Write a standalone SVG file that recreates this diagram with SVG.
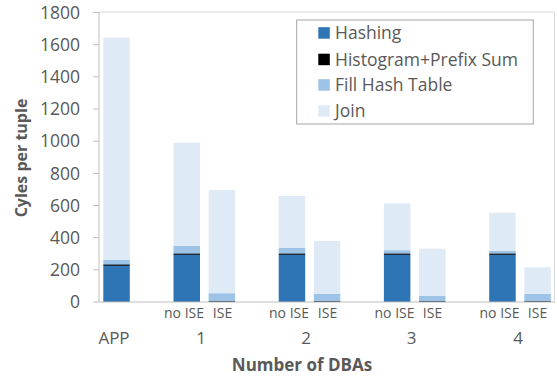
<svg xmlns="http://www.w3.org/2000/svg" width="557" height="376" viewBox="0 0 557 376">
<style>
text{font-family:"Open Sans","Liberation Sans",sans-serif;fill:#595959}
.tick{font-size:17.5px;text-anchor:end}
.cat{font-size:14px;text-anchor:middle}
.grp{font-size:17px;text-anchor:middle}
.title{font-size:17px;font-weight:bold;text-anchor:middle}
.leg{font-size:17.5px}
.hash{fill:#2E75B6}
.hist{fill:#1f2a36}
.fill{fill:#9DC3E6}
.join{fill:#DEEBF7}
.axis{stroke:#bfbfbf;stroke-width:1;fill:none}
.frame{stroke:#d9d9d9;stroke-width:1;fill:none}
</style>
<rect width="557" height="376" fill="#ffffff"/>
<g id="plot-frame">
<path class="frame" d="M99 12H554.5V302"/>
</g>
<g id="bars">
<g id="bar-app">
<rect class="join" x="103.3" y="37.7" width="26.5" height="222.3"/>
<rect class="fill" x="103.3" y="260" width="26.5" height="5"/>
<rect class="hist" x="103.3" y="264.5" width="26.5" height="1.5"/>
<rect class="hash" x="103.3" y="266" width="26.5" height="36"/>
</g>
<g id="bar-1-noise">
<rect class="join" x="173.5" y="142.7" width="26.5" height="103.3"/>
<rect class="fill" x="173.5" y="246" width="26.5" height="7.5"/>
<rect class="hist" x="173.5" y="253.5" width="26.5" height="1.5"/>
<rect class="hash" x="173.5" y="255" width="26.5" height="47"/>
</g>
<g id="bar-1-ise">
<rect class="join" x="208.6" y="190" width="26.5" height="103.3"/>
<rect class="fill" x="208.6" y="293.3" width="26.5" height="7.7"/>
<rect class="hist" x="208.6" y="301" width="26.5" height="1"/>
</g>
<g id="bar-2-noise">
<rect class="join" x="278.7" y="196" width="26.5" height="52"/>
<rect class="fill" x="278.7" y="248" width="26.5" height="5.5"/>
<rect class="hist" x="278.7" y="253.5" width="26.5" height="1.5"/>
<rect class="hash" x="278.7" y="255" width="26.5" height="47"/>
</g>
<g id="bar-2-ise">
<rect class="join" x="313.8" y="241" width="26.5" height="53"/>
<rect class="fill" x="313.8" y="294" width="26.5" height="7"/>
<rect class="hist" x="313.8" y="301" width="26.5" height="1"/>
</g>
<g id="bar-3-noise">
<rect class="join" x="383.9" y="203.3" width="26.5" height="47"/>
<rect class="fill" x="383.9" y="250.3" width="26.5" height="3.2"/>
<rect class="hist" x="383.9" y="253.5" width="26.5" height="1.5"/>
<rect class="hash" x="383.9" y="255" width="26.5" height="47"/>
</g>
<g id="bar-3-ise">
<rect class="join" x="419" y="248.7" width="26.5" height="47.3"/>
<rect class="fill" x="419" y="296" width="26.5" height="5"/>
<rect class="hist" x="419" y="301" width="26.5" height="1"/>
</g>
<g id="bar-4-noise">
<rect class="join" x="489.2" y="212.7" width="26.5" height="38.3"/>
<rect class="fill" x="489.2" y="251" width="26.5" height="2.5"/>
<rect class="hist" x="489.2" y="253.5" width="26.5" height="1.5"/>
<rect class="hash" x="489.2" y="255" width="26.5" height="47"/>
</g>
<g id="bar-4-ise">
<rect class="join" x="524.3" y="267.3" width="26.5" height="26.7"/>
<rect class="fill" x="524.3" y="294" width="26.5" height="7"/>
<rect class="hist" x="524.3" y="301" width="26.5" height="1"/>
</g>
</g>
<g id="axes">
<path class="axis" d="M99 12V302M93 302H555"/>
<path class="axis" d="M93 12.5H99M93 44.7H99M93 76.8H99M93 109H99M93 141.2H99M93 173.4H99M93 205.5H99M93 237.7H99M93 269.8H99"/>
</g>
<g id="y-ticks">
<text class="tick" x="80" y="18.7">1800</text>
<text class="tick" x="80" y="50.9">1600</text>
<text class="tick" x="80" y="83">1400</text>
<text class="tick" x="80" y="115.2">1200</text>
<text class="tick" x="80" y="147.4">1000</text>
<text class="tick" x="80" y="179.6">800</text>
<text class="tick" x="80" y="211.7">600</text>
<text class="tick" x="80" y="243.9">400</text>
<text class="tick" x="80" y="276">200</text>
<text class="tick" x="80" y="308.2">0</text>
</g>
<g id="x-labels">
<text class="cat" x="184" y="318">no ISE</text>
<text class="cat" x="222.5" y="318">ISE</text>
<text class="cat" x="289" y="318">no ISE</text>
<text class="cat" x="327.5" y="318">ISE</text>
<text class="cat" x="394.5" y="318">no ISE</text>
<text class="cat" x="432.5" y="318">ISE</text>
<text class="cat" x="499.5" y="318">no ISE</text>
<text class="cat" x="537.5" y="318">ISE</text>
<text class="grp" x="114" y="344">APP</text>
<text class="grp" x="201" y="344">1</text>
<text class="grp" x="306" y="344">2</text>
<text class="grp" x="411.5" y="344">3</text>
<text class="grp" x="518" y="344">4</text>
</g>
<g id="axis-titles">
<text class="title" x="302" y="371">Number of DBAs</text>
<text class="title" style="font-size:16px" transform="translate(27 158) rotate(-90)">Cyles per tuple</text>
</g>
<g id="legend">
<rect x="296.7" y="20" width="236.6" height="104" fill="#ffffff" stroke="#a6a6a6" stroke-width="1"/>
<rect class="hash" x="318.3" y="27.2" width="11.5" height="11.5"/>
<text class="leg" x="335" y="39">Hashing</text>
<rect x="318.3" y="53.7" width="11.5" height="11.5" fill="#000000"/>
<text class="leg" x="335" y="65.5">Histogram+Prefix Sum</text>
<rect class="fill" x="318.3" y="79.2" width="11.5" height="11.5"/>
<text class="leg" x="335" y="91">Fill Hash Table</text>
<rect class="join" x="318.3" y="105.2" width="11.5" height="11.5"/>
<text class="leg" x="335" y="117">Join</text>
</g>
</svg>
